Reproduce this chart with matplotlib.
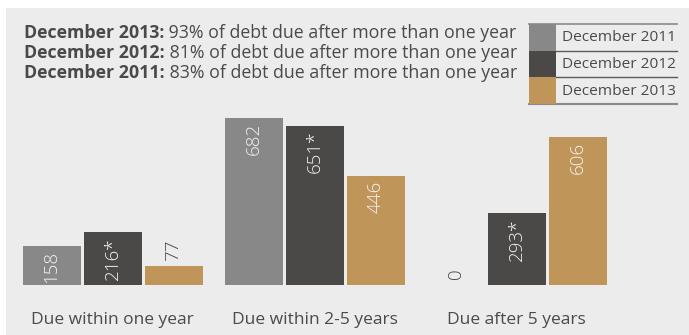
import numpy as np
import matplotlib
matplotlib.use('Agg')
from matplotlib import pyplot as plt
from matplotlib.patches import Rectangle
from matplotlib.lines import Line2D

categories = ['Due within one year', 'Due within 2-5 years', 'Due after 5 years']
series_names = ['December 2011', 'December 2012', 'December 2013']
values_2011 = [158, 682, 0]
values_2012 = [216, 651, 293]
values_2013 = [77, 446, 606]
restated_2012 = [True, True, True]   # the 2012 figures carry an asterisk
summary_years = ['December 2013', 'December 2012', 'December 2011']
summary_share = [93, 81, 83]

colors = ['#888888', '#4a4947', '#bf9559']
bg = '#ececec'
text_col = '#4a4a4a'

W, H = 689, 335
plt.rcParams['font.family'] = ['Open Sans', 'DejaVu Sans']

fig = plt.figure(figsize=(W / 100, H / 100), dpi=100)
fig.patch.set_facecolor('white')


def fx(px):
    return px / W


def fy(py):
    return 1 - py / H


# grey panel behind everything
fig.patches.append(Rectangle((fx(6), 0), 1 - fx(6), fy(8), transform=fig.transFigure,
                             facecolor=bg, edgecolor='none', zorder=-10))

# bar axes: baseline at y=285px, 682 -> 167px
baseline = 285
ppu = 167 / 682
ymax = 900
ax_h = ymax * ppu
ax = fig.add_axes([0, fy(baseline), 1, ax_h / H])
ax.set_facecolor('none')
grp = 202.0
ax.set_xlim(-112.5 / grp, (W - 112.5) / grp)
ax.set_ylim(0, ymax)
ax.axis('off')

x = np.arange(len(categories))
step = 61 / grp
width = 58 / grp
all_vals = [values_2011, values_2012, values_2013]
for k, (vals, col) in enumerate(zip(all_vals, colors)):
    xs = x + (k - 1) * step
    ax.bar(xs, vals, width=width, color=col, linewidth=0)
    for i, (xi, v) in enumerate(zip(xs, vals)):
        lab = str(v)
        if k == 1 and restated_2012[i]:
            lab += '*'
        # short bars get their value above the bar
        if v * ppu > 30:
            ax.annotate(lab, (xi, v), xytext=(0, -3.5), textcoords='offset points',
                        rotation=90, ha='center', va='top', color='#f4f4f4',
                        fontsize=13.5, fontweight='light', annotation_clip=False)
        else:
            ax.annotate(lab, (xi, v), xytext=(0, 4), textcoords='offset points',
                        rotation=90, ha='center', va='bottom', color=text_col,
                        fontsize=13.5, fontweight='light', annotation_clip=False)

for xi, c in zip(x, categories):
    ax.annotate(c, (xi, 0), xytext=(0, -(320.5 - baseline) * 0.72), textcoords='offset points',
                ha='center', va='center', fontsize=12.5, color=text_col,
                annotation_clip=False)

# summary lines at the top
for j, (yr, sh) in enumerate(zip(summary_years, summary_share)):
    yb = 38.5 + 20 * j
    t = fig.text(fx(24), fy(yb), yr + ':', fontsize=12.8, fontweight='bold',
                 color=text_col, va='baseline', ha='left')
    fig.add_artist(matplotlib.text.Annotation(
        ' %d%% of debt due after more than one year' % sh, xy=(1, 0), xycoords=t,
        va='bottom', ha='left', fontsize=12.8, color=text_col))

# legend box
lx0, lx1, sw = 528.5, 677, 556
rows = [24, 50.7, 77.3, 104]
for k, name in enumerate(series_names):
    y0, y1 = rows[k], rows[k + 1]
    fig.patches.append(Rectangle((fx(lx0), fy(y1)), fx(sw) - fx(lx0), fy(y0) - fy(y1),
                                 transform=fig.transFigure, facecolor=colors[k],
                                 edgecolor='none', zorder=2))
    fig.text(fx(562), fy((y0 + y1) / 2 + 0.5), name, fontsize=11.1, color=text_col,
             ha='left', va='center')
fig.lines.append(Line2D([fx(lx0), fx(lx1)], [fy(rows[0]), fy(rows[0])], color='#8a8a8a',
                        lw=1.2, transform=fig.transFigure))
for yy in rows[1:3]:
    fig.lines.append(Line2D([fx(sw), fx(lx1)], [fy(yy), fy(yy)], color='#5a5a5a',
                            lw=1.0, transform=fig.transFigure))
fig.lines.append(Line2D([fx(lx0), fx(lx1)], [fy(rows[3]), fy(rows[3])], color='#8a8a8a',
                        lw=1.5, transform=fig.transFigure))

fig.savefig('out.png', dpi=100, facecolor=fig.get_facecolor())
